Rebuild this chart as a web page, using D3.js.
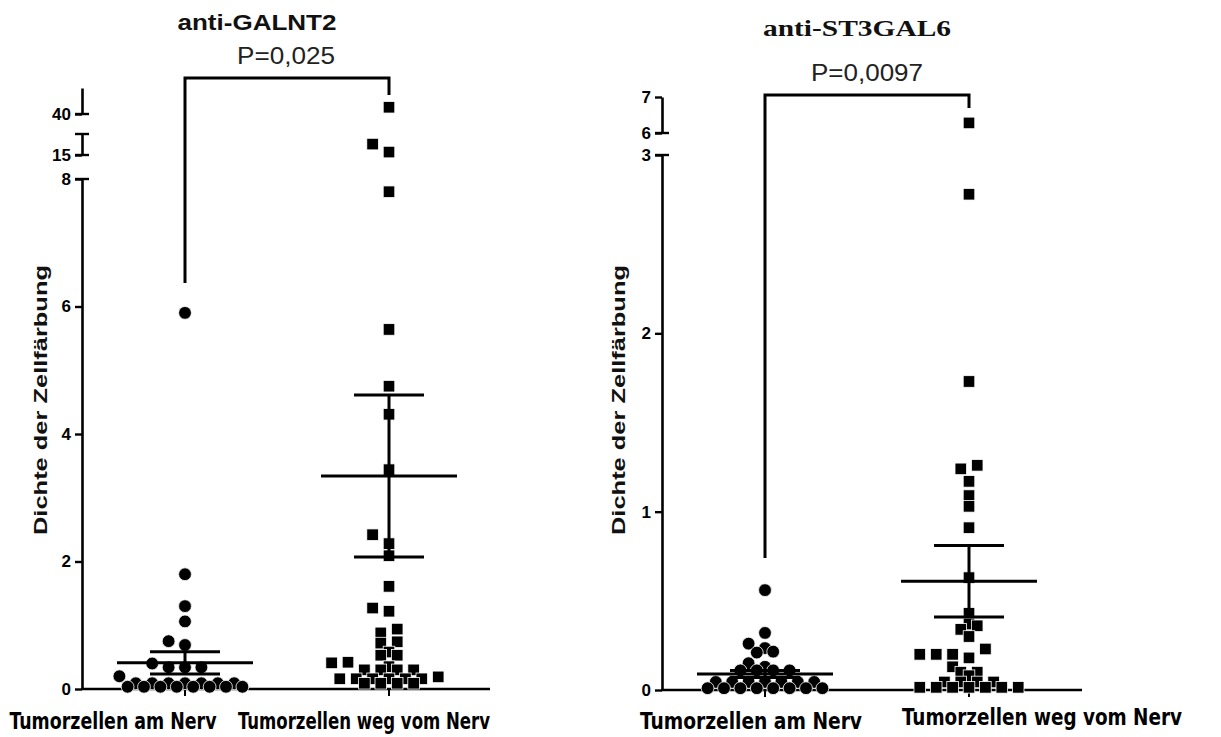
<!DOCTYPE html>
<html>
<head>
<meta charset="utf-8">
<script src="https://cdn.jsdelivr.net/npm/d3@7"></script>
<style>
  html, body { margin: 0; padding: 0; background: #fff; }
  svg { display: block; }
</style>
</head>
<body>
<svg id="chart" width="1221" height="737"></svg>
<script>
// ---- data -------------------------------------------------------------
const categories = ["Tumorzellen am Nerv", "Tumorzellen weg vom Nerv"];
const titles = ["anti-GALNT2", "anti-ST3GAL6"];
const pLabels = ["P=0,025", "P=0,0097"];
const yAxisTitle = "Dichte der Zellfärbung";

// staining density per sample, GALNT2
const galnt2AmNerv = [5.9, 1.80, 1.30, 1.06, 0.75, 0.69, 0.40, 0.34, 0.34, 0.34, 0.20,
  0.09, 0.09, 0.09, 0.09, 0.09, 0.09, 0.09,
  0.035, 0.035, 0.035, 0.035, 0.035, 0.035, 0.035, 0.035];
const galnt2WegNerv = [41.3, 17.6, 15.7, 7.8, 5.64, 4.75, 4.31, 3.44, 2.42, 2.28, 2.09,
  1.61, 1.27, 1.22, 0.94, 0.88, 0.74, 0.72, 0.58, 0.53, 0.53, 0.42, 0.41, 0.35,
  0.30, 0.30, 0.30, 0.30, 0.19, 0.16, 0.16, 0.16, 0.16, 0.16, 0.16,
  0.09, 0.09, 0.09, 0.09];
const galnt2Mean = [0.41, 3.34];
const galnt2Sem = [0.175, 1.27];
const galnt2Segments = [[0, 8], [15, 20], [40, 45]];
const galnt2Ticks = [[0, 2, 4, 6, 8], [15], [40]];

// staining density per sample, ST3GAL6
const st3galAmNerv = [0.56, 0.32, 0.26, 0.235, 0.215, 0.21, 0.15, 0.13,
  0.11, 0.11, 0.11, 0.11,
  0.045, 0.045, 0.045, 0.045, 0.045, 0.045, 0.045,
  0.01, 0.01, 0.01, 0.01, 0.01, 0.01, 0.01, 0.01];
const st3galWegNerv = [6.28, 2.78, 1.73, 1.26, 1.24, 1.17, 1.09, 1.03, 0.91, 0.63, 0.43,
  0.37, 0.36, 0.34, 0.30, 0.23, 0.20, 0.20, 0.20, 0.18, 0.13, 0.10, 0.10, 0.08,
  0.045, 0.045, 0.045, 0.045,
  0.015, 0.015, 0.015, 0.015, 0.015, 0.015, 0.015];
const st3galMean = [0.09, 0.61];
const st3galSem = [0.02, 0.20];
const st3galSegments = [[0, 3], [6, 7]];
const st3galTicks = [[0, 1, 2, 3], [6, 7]];

// ---- layout -----------------------------------------------------------
const SANS = "'Liberation Sans', Arial, Helvetica, sans-serif";
const SERIF = "'Liberation Serif', 'Times New Roman', serif";
const NARROW = "'Liberation Sans Narrow', 'Arial Narrow', 'DejaVu Sans Condensed', sans-serif";

const panels = [
  {
    title: titles[0], titleFont: SANS, titleSize: 22, titleX: 257, titleY: 30, titleLen: 159,
    pLabel: pLabels[0], pX: 286, pY: 64, pLen: 98,
    segments: galnt2Segments, segRanges: [[689, 179], [155, 134], [114, 88]], ticks: galnt2Ticks,
    caps: [[0, 1], [1, 0], [1, 1], [2, 0]],
    axisX: 82, axisEnd: 490, groupRange: [185, 389],
    values: [galnt2AmNerv, galnt2WegNerv], mean: galnt2Mean, sem: galnt2Sem,
    bracketY: 78, bracketEnds: [283, 95],
    yTitleX: 40, labelX: [113, 364], labelY: [729, 729], labelLen: [207, 252]
  },
  {
    title: titles[1], titleFont: SERIF, titleSize: 23, titleX: 857, titleY: 36, titleLen: 188,
    pLabel: pLabels[1], pX: 867, pY: 81, pLen: 112,
    segments: st3galSegments, segRanges: [[690, 155], [133, 97]], ticks: st3galTicks,
    caps: [[0, 1], [1, 0]],
    axisX: 662, axisEnd: 1082, groupRange: [765, 969],
    values: [st3galAmNerv, st3galWegNerv], mean: st3galMean, sem: st3galSem,
    bracketY: 95, bracketEnds: [558, 108],
    yTitleX: 618, labelX: [751, 1042], labelY: [729, 725], labelLen: [222, 280]
  }
];

const svg = d3.select("#chart");
svg.append("rect").attr("width", 1221).attr("height", 737).attr("fill", "#fff");

const SLOT = 16.4;       // horizontal spacing of scatter columns
const ROW = 5;           // height of a scatter row in px
const HIT_W = 8, HIT_H = 9;

// scale with axis breaks: one linear scale per segment
function brokenScale(segments, ranges) {
  const scales = segments.map((d, i) => d3.scaleLinear().domain(d).range(ranges[i]));
  const f = v => {
    let idx = 0;
    segments.forEach((d, i) => { if (v >= d[0]) idx = i; });
    return scales[idx](v);
  };
  f.scales = scales;
  return f;
}

// column scatter: rows of similar value spread symmetrically, shifted when they hit earlier points
function scatterLayout(values, y, cx) {
  const y0 = y(0);
  const pts = values.map(v => ({ v, y: y(v) }));
  const rows = Array.from(d3.group(pts, p => Math.floor((y0 - p.y) / ROW)))
    .sort((a, b) => a[0] - b[0]);
  const placed = [];
  const hits = (xs, row) => row.some((p, i) =>
    placed.some(q => Math.abs(q.x - xs[i]) < HIT_W && Math.abs(q.y - p.y) < HIT_H));
  for (const [, row] of rows) {
    row.sort((a, b) => a.v - b.v);
    const n = row.length;
    const base = row.map((p, i) => cx + (i - (n - 1) / 2) * SLOT);
    let xs = base;
    if (n <= 3) {
      for (let k = 0; k < 12; k++) {
        const shift = k === 0 ? 0 : (k % 2 ? -1 : 1) * Math.ceil(k / 2);
        const cand = base.map(x => x + shift * SLOT);
        if (!hits(cand, row)) { xs = cand; break; }
      }
    }
    row.forEach((p, i) => { p.x = xs[i]; placed.push(p); });
  }
  return pts;
}

panels.forEach(P => {
  const g = svg.append("g");
  const y = brokenScale(P.segments, P.segRanges);
  const x = d3.scalePoint().domain(categories).range(P.groupRange);

  // y axis segments
  P.segments.forEach((seg, i) => {
    const axis = d3.axisLeft(y.scales[i]).tickValues(P.ticks[i]).tickSize(7).tickSizeOuter(0)
      .tickPadding(4).tickFormat(d3.format("d"));
    const ag = g.append("g").attr("transform", `translate(${P.axisX},0)`).call(axis);
    ag.select(".domain").attr("stroke", "#000").attr("stroke-width", 2.6);
    ag.selectAll(".tick line").attr("stroke", "#000").attr("stroke-width", 2.4);
    ag.selectAll(".tick text").attr("fill", "#000").attr("font-family", SANS)
      .attr("font-weight", "bold").attr("font-size", 17);
  });
  // break caps
  P.caps.forEach(([s, end]) => {
    const yy = P.segRanges[s][end];
    g.append("line").attr("x1", P.axisX - 7).attr("x2", P.axisX + 7)
      .attr("y1", yy).attr("y2", yy).attr("stroke", "#000").attr("stroke-width", 2.4);
  });

  // x axis
  const y0 = y(0);
  g.append("line").attr("x1", P.axisX - 1).attr("x2", P.axisEnd).attr("y1", y0).attr("y2", y0)
    .attr("stroke", "#000").attr("stroke-width", 2.6);
  g.selectAll(".xtick").data(categories).join("line")
    .attr("x1", d => x(d)).attr("x2", d => x(d)).attr("y1", y0).attr("y2", y0 + 7)
    .attr("stroke", "#000").attr("stroke-width", 2);

  // points
  P.values.forEach((vals, gi) => {
    const pts = scatterLayout(vals, y, x(categories[gi]));
    if (gi === 0) {
      g.append("g").selectAll("circle").data(pts).join("circle")
        .attr("cx", d => d.x).attr("cy", d => d.y).attr("r", 6.4)
        .attr("fill", "#000").attr("stroke", "#fff").attr("stroke-width", 0.8);
    } else {
      const s = 11.6;
      g.append("g").selectAll("rect").data(pts).join("rect")
        .attr("x", d => d.x - s / 2).attr("y", d => d.y - s / 2).attr("width", s).attr("height", s)
        .attr("fill", "#000").attr("stroke", "#fff").attr("stroke-width", 0.8);
    }
  });

  // mean ± SEM
  categories.forEach((c, gi) => {
    const cx = x(c), m = P.mean[gi], e = P.sem[gi];
    const lg = g.append("g").attr("stroke", "#000").attr("stroke-width", 3);
    lg.append("line").attr("x1", cx - 68).attr("x2", cx + 68).attr("y1", y(m)).attr("y2", y(m));
    lg.append("line").attr("x1", cx - 35).attr("x2", cx + 35).attr("y1", y(m + e)).attr("y2", y(m + e));
    lg.append("line").attr("x1", cx - 35).attr("x2", cx + 35).attr("y1", y(m - e)).attr("y2", y(m - e));
    lg.append("line").attr("x1", cx).attr("x2", cx).attr("y1", y(m + e)).attr("y2", y(m - e));
  });

  // significance bracket
  const xa = x(categories[0]), xb = x(categories[1]);
  g.append("path")
    .attr("d", `M${xa},${P.bracketEnds[0]}V${P.bracketY}H${xb}V${P.bracketEnds[1]}`)
    .attr("fill", "none").attr("stroke", "#000").attr("stroke-width", 3);

  // texts
  g.append("text").attr("x", P.titleX).attr("y", P.titleY).attr("text-anchor", "middle")
    .attr("font-family", P.titleFont).attr("font-weight", "bold").attr("font-size", P.titleSize)
    .attr("fill", "#111").attr("textLength", P.titleLen).attr("lengthAdjust", "spacingAndGlyphs")
    .text(P.title);
  g.append("text").attr("x", P.pX).attr("y", P.pY).attr("text-anchor", "middle")
    .attr("font-family", SANS).attr("font-size", 23).attr("fill", "#222")
    .attr("textLength", P.pLen).attr("lengthAdjust", "spacingAndGlyphs").text(P.pLabel);
  g.append("text").attr("transform", `translate(${P.yTitleX},400) rotate(-90)`)
    .attr("text-anchor", "middle").attr("dominant-baseline", "central")
    .attr("font-family", SANS).attr("font-weight", "bold").attr("font-size", 19).attr("fill", "#111")
    .attr("textLength", 270).attr("lengthAdjust", "spacingAndGlyphs").text(yAxisTitle);
  categories.forEach((c, gi) => {
    g.append("text").attr("x", P.labelX[gi]).attr("y", P.labelY[gi]).attr("text-anchor", "middle")
      .attr("font-family", NARROW).attr("font-weight", "bold").attr("font-size", 23).attr("fill", "#000")
      .attr("textLength", P.labelLen[gi]).attr("lengthAdjust", "spacingAndGlyphs").text(c);
  });
});
</script>
</body>
</html>
